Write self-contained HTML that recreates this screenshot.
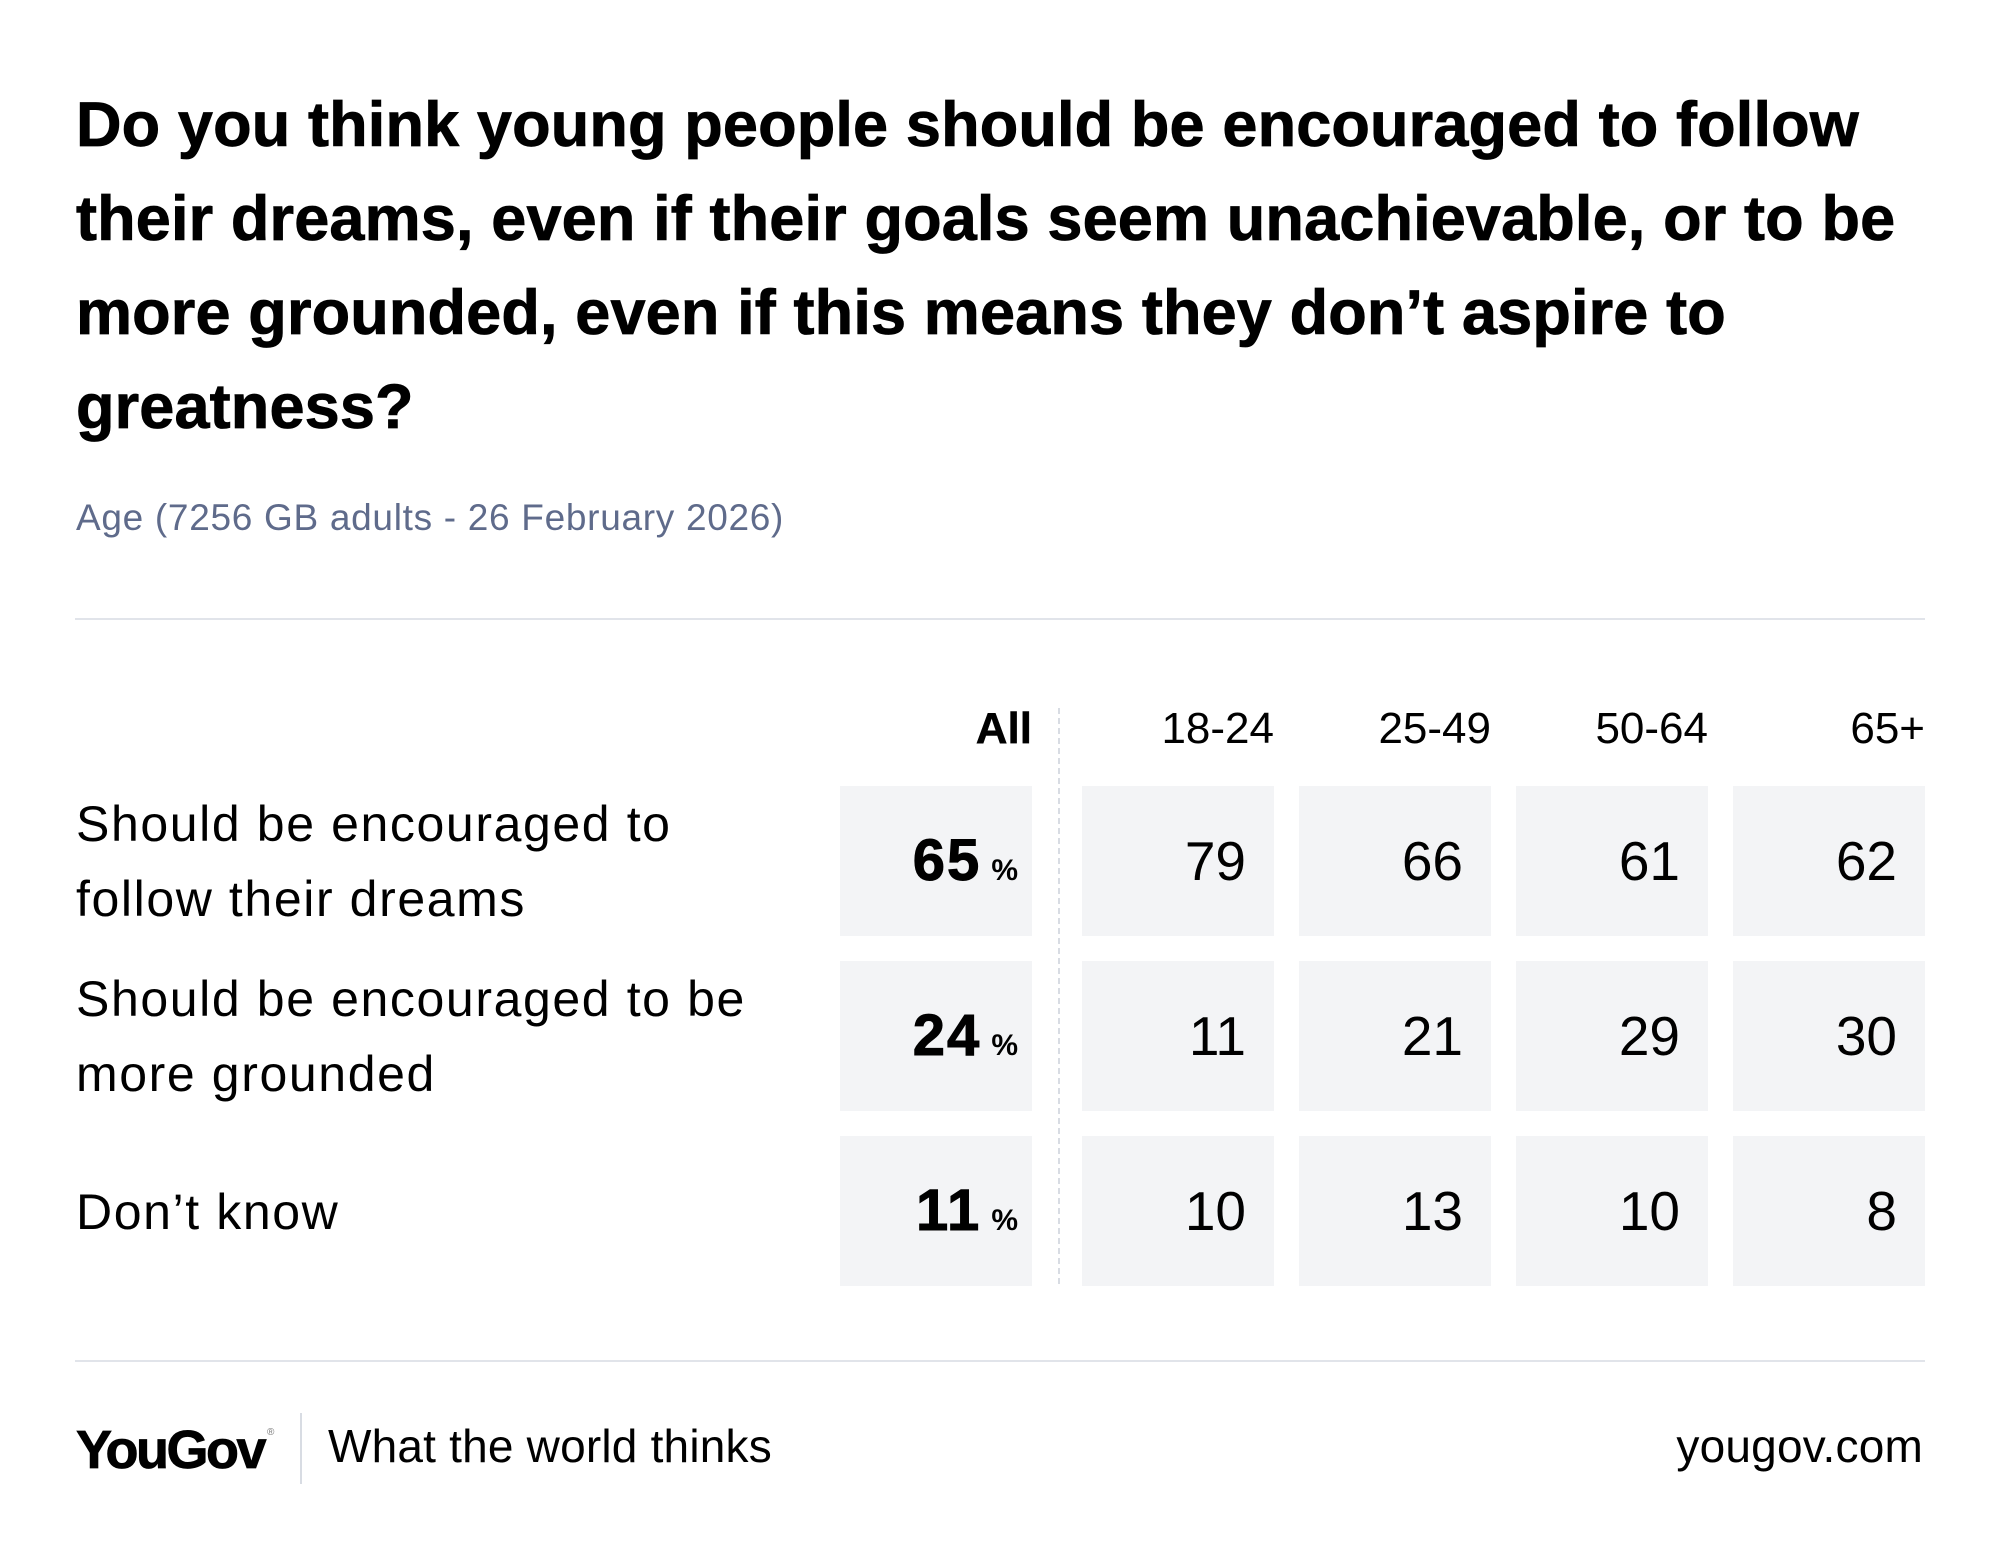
<!DOCTYPE html>
<html>
<head>
<meta charset="utf-8">
<style>
  html, body { margin:0; padding:0; }
  body { width:2000px; height:1562px; background:#ffffff; position:relative; overflow:hidden;
         font-family:"Liberation Sans", Arial, sans-serif; color:#000; }
  .abs { position:absolute; white-space:nowrap; }
  .title { left:76px; top:78px; font-size:63px; line-height:94px; font-weight:700; letter-spacing:0.15px;
           -webkit-text-stroke:0.8px #000; color:#000; }
  .sub { left:76px; top:499px; font-size:37px; line-height:37px; letter-spacing:0.7px; color:#5f6b8b; }
  .rule { position:absolute; left:75px; width:1850px; height:2px; background:#e1e4ea; }
  .hdr { position:absolute; top:707px; height:44px; line-height:44px; font-size:44px; text-align:right; width:192px; white-space:nowrap; }
  .hdr.all { font-weight:700; font-size:44px; -webkit-text-stroke:0.5px #000; }
  .cell { position:absolute; width:192px; height:150px; background:#f3f4f6; text-align:right;
          line-height:150px; font-size:55px; box-sizing:border-box; padding-right:28px; white-space:nowrap; }
  .cell.a { padding-right:14px; }
  .num { font-weight:700; font-size:58px; letter-spacing:2px; -webkit-text-stroke:1px #000; }
  .pct { font-weight:700; font-size:30px; margin-left:10px; }
  .lab { position:absolute; left:76px; height:150px; display:flex; align-items:center;
         font-size:50px; line-height:75px; letter-spacing:1.6px; white-space:nowrap; }
  .dash { position:absolute; left:1058px; top:708px; width:2px; height:578px;
          background:repeating-linear-gradient(to bottom, #d8dce3 0, #d8dce3 6px, transparent 6px, transparent 10px); }
</style>
</head>
<body>
  <div class="abs title">Do you think young people should be encouraged to follow<br>their dreams, even if their goals seem unachievable, or to be<br>more grounded, even if this means they don’t aspire to<br>greatness?</div>

  <div class="abs sub">Age (7256 GB adults - 26 February 2026)</div>

  <div class="rule" style="top:618px;"></div>

  <!-- headers -->
  <div class="hdr all" style="left:840px;">All</div>
  <div class="hdr" style="left:1082px;">18-24</div>
  <div class="hdr" style="left:1299px;">25-49</div>
  <div class="hdr" style="left:1516px;">50-64</div>
  <div class="hdr" style="left:1733px;">65+</div>

  <div class="dash"></div>

  <!-- labels -->
  <div class="lab" style="top:787px;"><div>Should be encouraged to<br>follow their dreams</div></div>
  <div class="lab" style="top:962px;"><div>Should be encouraged to be<br>more grounded</div></div>
  <div class="lab" style="top:1137px;"><div>Don’t know</div></div>

  <!-- row 1 -->
  <div class="cell a" style="left:840px; top:786px;"><span class="num">65</span><span class="pct">%</span></div>
  <div class="cell" style="left:1082px; top:786px;">79</div>
  <div class="cell" style="left:1299px; top:786px;">66</div>
  <div class="cell" style="left:1516px; top:786px;">61</div>
  <div class="cell" style="left:1733px; top:786px;">62</div>

  <!-- row 2 -->
  <div class="cell a" style="left:840px; top:961px;"><span class="num">24</span><span class="pct">%</span></div>
  <div class="cell" style="left:1082px; top:961px;">11</div>
  <div class="cell" style="left:1299px; top:961px;">21</div>
  <div class="cell" style="left:1516px; top:961px;">29</div>
  <div class="cell" style="left:1733px; top:961px;">30</div>

  <!-- row 3 -->
  <div class="cell a" style="left:840px; top:1136px;"><span class="num">11</span><span class="pct">%</span></div>
  <div class="cell" style="left:1082px; top:1136px;">10</div>
  <div class="cell" style="left:1299px; top:1136px;">13</div>
  <div class="cell" style="left:1516px; top:1136px;">10</div>
  <div class="cell" style="left:1733px; top:1136px;">8</div>

  <div class="rule" style="top:1360px;"></div>

  <!-- footer -->
  <div class="abs" style="left:76px; top:1423px; font-size:54px; line-height:54px; font-weight:700; letter-spacing:-2.5px; -webkit-text-stroke:0.8px #000;">YouGov</div>
  <div class="abs" style="left:267px; top:1428px; font-size:10px; line-height:10px; color:#777;">®</div>
  <div style="position:absolute; left:300px; top:1413px; width:2px; height:71px; background:#d8dce3;"></div>
  <div class="abs" style="left:328px; top:1423px; font-size:46px; line-height:46px; letter-spacing:0.2px;">What the world thinks</div>
  <div class="abs" style="right:77px; top:1423px; font-size:46px; line-height:46px; letter-spacing:0.2px;">yougov.com</div>
</body>
</html>
